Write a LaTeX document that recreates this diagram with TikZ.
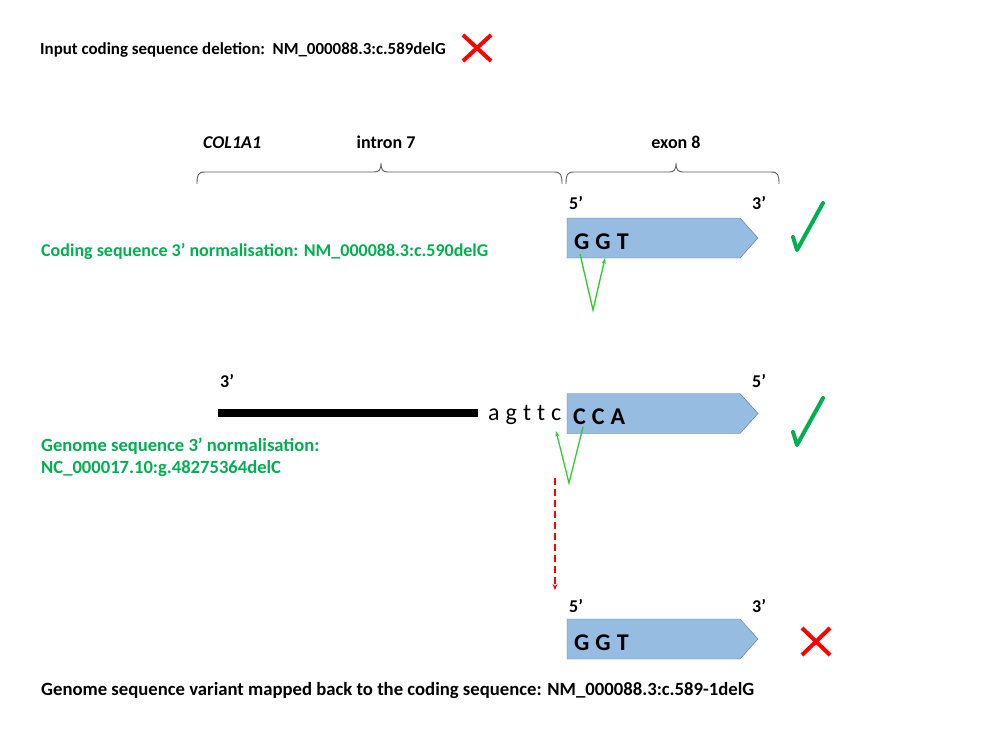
\documentclass[tikz,border=0pt]{standalone}
\usepackage{fontspec}
\setmainfont{Carlito}
\usetikzlibrary{shapes.symbols}
\usetikzlibrary{arrows.meta}
\definecolor{boxblue}{RGB}{151,188,226}
\definecolor{boxline}{RGB}{80,118,170}
\definecolor{okgreen}{RGB}{0,176,80}
\definecolor{vgreen}{RGB}{40,205,40}
\definecolor{bracegray}{RGB}{90,90,90}

\begin{document}
\begin{tikzpicture}[x=1pt, y=-1pt,
		lbl/.style={font=\bfseries\fontsize{18}{21}\selectfont, inner sep=0, anchor=base west},
		seq/.style={font=\bfseries\fontsize{24}{28}\selectfont, inner sep=0, anchor=base west},
		exbox/.style={signal, signal to=east, signal pointer angle=96, draw=boxline, fill=boxblue, minimum width=191, minimum height=40, inner sep=0},
		vline/.style={draw=vgreen, line width=1.3, -{Stealth[length=6pt,width=4pt]}},
		tick/.style={draw=okgreen, line width=4, line cap=round, line join=round},
		cross/.style={draw=red, line width=4},
		brace/.style={draw=bracegray, line width=0.9}]
		
		\useasboundingbox (0,0) rectangle (1000,738);
		
		\node (inp) at (40,55) [lbl, font=\bfseries\fontsize{16.9}{21}\selectfont] {Input coding sequence deletion:\ \ NM\_000088.3:c.589delG};
		\draw[cross] (463,35) -- (491,61) (491,35) -- (463,61);
		
		\node (gene) at (203,149) [lbl] {\textit{COL1A1}};
		\node (intr) at (386,149) [lbl, anchor=base] {intron 7};
		\node (exon) at (676,149) [lbl, anchor=base] {exon 8};
		\foreach \a/\m/\b in {197/381/562, 566/676/779}
			\draw[brace] (\a,184) .. controls (\a,175) and (\a+1,172) .. (\a+8,172) -- (\m-7,172)
				.. controls (\m-2,172) and (\m,170) .. (\m,163)
				.. controls (\m,170) and (\m+2,172) .. (\m+7,172) -- (\b-8,172)
				.. controls (\b-1,172) and (\b,175) .. (\b,184);
		
		\node (b1) at (653.5,238) [exbox] {};
		\node (p1) at (569,209) [lbl] {5’};
		\node (q1) at (752,209) [lbl] {3’};
		\node (s1) at (574,249) [seq] {G\hspace{6pt}G\hspace{6pt}T};
		\node (n1) at (41,256) [lbl, text=okgreen] {Coding sequence 3’ normalisation: NM\_000088.3:c.590delG};
		\coordinate (g1a) at (580,254);
		\coordinate (g1b) at (593,310);
		\coordinate (g1c) at (605,258);
		\draw[vline] (g1a) -- (g1b) -- (g1c);
		\draw[tick] (793,237) -- (797,250) -- (823,203);
		
		\node (p2) at (220,387) [lbl] {3’};
		\node (q2) at (752,387) [lbl] {5’};
		\coordinate (l0) at (218,413);
		\coordinate (l1) at (478,413);
		\draw[line width=8] (l0) -- (l1);
		\node (intseq) at (488,420) [seq, font=\fontsize{24}{28}\selectfont] {a\hspace{6pt}g\hspace{6pt}t\hspace{6pt}t\hspace{6pt}c};
		\node (b2) at (653.5,413.5) [exbox] {};
		\node (s2) at (573,424) [seq] {C\hspace{6pt}C\hspace{6pt}A};
		\node (n2) at (41,451) [lbl, text=okgreen, font=\bfseries\fontsize{18.6}{21}\selectfont] {Genome sequence 3’ normalisation:};
		\node (n3) at (41,473) [lbl, text=okgreen, font=\bfseries\fontsize{18.6}{21}\selectfont] {NC\_000017.10:g.48275364delC};
		\coordinate (g2a) at (583,427);
		\coordinate (g2b) at (569,483);
		\coordinate (g2c) at (556,431);
		\draw[vline] (g2a) -- (g2b) -- (g2c);
		\draw[tick] (793,432) -- (797,445) -- (823,398);
		
		\coordinate (r0) at (555,478);
		\coordinate (r1) at (555,590);
		\draw[draw=red, line width=1.8, dash pattern=on 7pt off 4pt, -{Stealth[length=6pt,width=5pt]}] (r0) -- (r1);
		
		\node (p3) at (569,612) [lbl] {5’};
		\node (q3) at (752,612) [lbl] {3’};
		\node (b3) at (653.5,639) [exbox] {};
		\node (s3) at (574,650) [seq] {G\hspace{6pt}G\hspace{6pt}T};
		\draw[cross] (802,628) -- (830,655) (830,628) -- (802,655);
		\node (n4) at (41,695) [lbl, font=\bfseries\fontsize{18.7}{21}\selectfont] {Genome sequence variant mapped back to the coding sequence: NM\_000088.3:c.589-1delG};
	\end{tikzpicture}
\end{document}
